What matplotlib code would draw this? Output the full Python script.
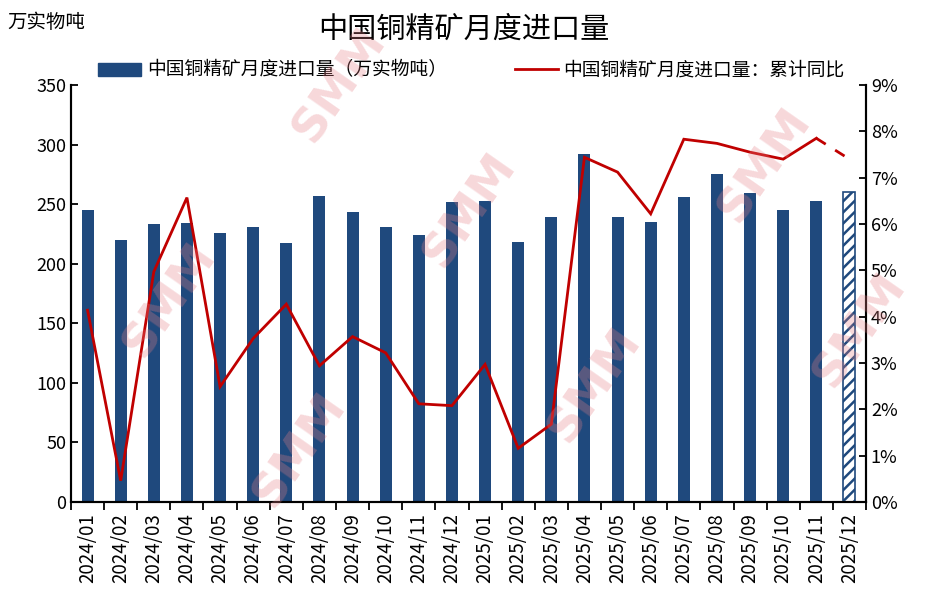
import matplotlib
matplotlib.use("Agg")
import matplotlib.pyplot as plt
import numpy as np

plt.rcParams['font.family'] = ['Noto Sans CJK SC', 'DejaVu Sans']
plt.rcParams['hatch.linewidth'] = 1.8

months = ["2024/01", "2024/02", "2024/03", "2024/04", "2024/05", "2024/06",
          "2024/07", "2024/08", "2024/09", "2024/10", "2024/11", "2024/12",
          "2025/01", "2025/02", "2025/03", "2025/04", "2025/05", "2025/06",
          "2025/07", "2025/08", "2025/09", "2025/10", "2025/11", "2025/12"]
imports = [245, 220, 233, 234, 226, 231, 217, 257, 243, 231, 224, 252,
           253, 218, 239, 292, 239, 235, 256, 275, 259, 245, 253, 260]
cum_yoy = [4.14, 0.46, 4.97, 6.57, 2.49, 3.53, 4.27, 2.94, 3.57, 3.22, 2.12, 2.08,
           2.97, 1.16, 1.68, 7.44, 7.12, 6.22, 7.83, 7.74, 7.55, 7.40, 7.85, 7.40]

NAVY = "#1f497d"
RED = "#c00000"

fig = plt.figure(figsize=(9.28, 6.05), dpi=100)
ax = fig.add_axes([0.0765, 0.1702, 0.8567, 0.6893])
ax2 = ax.twinx()

x = np.arange(len(months))
n = len(months)
# actual months solid, last month (estimate) hatched
ax.bar(x[:-1], imports[:-1], width=0.36, color=NAVY, zorder=2)
ax.bar(x[-1:], imports[-1:], width=0.36, facecolor="white", edgecolor=NAVY,
       hatch="///", linewidth=1.2, zorder=2)

ax2.plot(x[:-1], cum_yoy[:-1], color=RED, lw=2.0, solid_joinstyle="miter")
ax2.plot(x[-2:], cum_yoy[-2:], color=RED, lw=2.0, ls=(0, (4, 4)))

ax.set_xlim(-0.5, n - 0.5)
ax.set_ylim(0, 350)
ax.set_yticks(range(0, 351, 50))
ax2.set_ylim(0, 9)
ax2.set_yticks(range(0, 10))
ax2.set_yticklabels([f"{v}%" for v in range(0, 10)])

ax.set_xticks(x)
ax.set_xticklabels(months, rotation=90, fontsize=13.5)
ax.set_xticks(np.arange(-0.5, n, 1), minor=True)
ax.tick_params(axis="x", which="major", length=0, pad=8)
ax.tick_params(axis="x", which="minor", length=6, width=1.3, direction="out")
ax.tick_params(axis="y", direction="in", length=5, width=1.3, labelsize=13)
ax2.tick_params(axis="y", direction="in", length=5, width=1.3, labelsize=13)

for a in (ax, ax2):
    a.spines["top"].set_visible(False)
    for s in ("left", "right", "bottom"):
        a.spines[s].set_linewidth(1.5)

fig.text(0.5, 0.95, "中国铜精矿月度进口量", ha="center", va="center", fontsize=21)
fig.text(0.008, 0.962, "万实物吨", ha="left", va="center", fontsize=14)

h1 = plt.Rectangle((0, 0), 1, 1, color=NAVY)
h2 = plt.Line2D([], [], color=RED, lw=2.0)
fig.legend([h1, h2], ["中国铜精矿月度进口量（万实物吨）", "中国铜精矿月度进口量：累计同比"],
           loc="center", bbox_to_anchor=(0.508, 0.884), ncol=2, frameon=False,
           fontsize=13.5, handlelength=2.3, columnspacing=3.6, handletextpad=0.3)

# SMM watermark
for px, py in [(340, 85), (470, 210), (765, 165), (170, 300),
               (300, 450), (595, 385), (860, 330)]:
    fig.text(px / 928, 1 - py / 605, "SMM", ha="center", va="center", fontsize=34,
             fontweight="bold", rotation=55, color="#e57f86", alpha=0.3,
             family="DejaVu Sans", zorder=10)

fig.savefig("out.png", dpi=100)
